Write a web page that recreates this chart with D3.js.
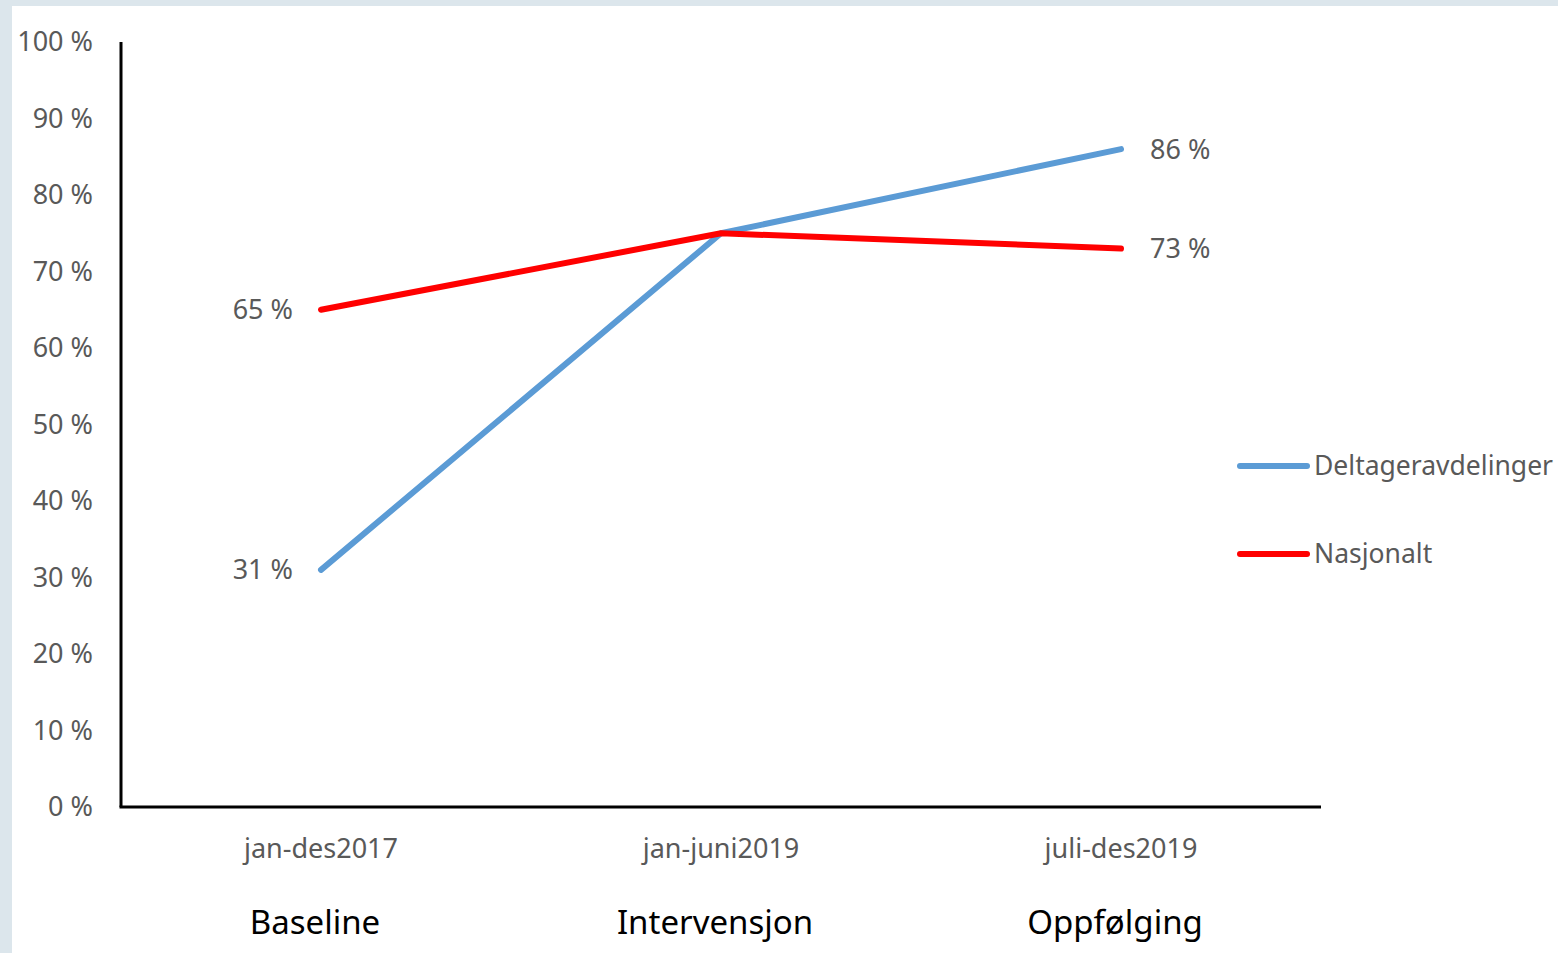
<!DOCTYPE html>
<html lang="no">
<head>
<meta charset="UTF-8">
<title>Deltageravdelinger vs Nasjonalt</title>
<script src="https://d3js.org/d3.v7.min.js"></script>
<style>
  body { margin: 0; background: #dce6ec; }
  svg { display: block; }
  .tick-label { font-family: "Noto Sans", sans-serif; fill: #595959; }
</style>
</head>
<body>
<script>
const categories = ["jan-des2017", "jan-juni2019", "juli-des2019"];
const phases = ["Baseline", "Intervensjon", "Oppfølging"];
const deltager = [31, 75, 86];
const nasjonalt = [65, 75, 73];
const yTicks = [0, 10, 20, 30, 40, 50, 60, 70, 80, 90, 100];

const series = [
  { name: "Deltageravdelinger", values: deltager, color: "#5b9bd5", labelIdx: [0, 2] },
  { name: "Nasjonalt", values: nasjonalt, color: "#ff0000", labelIdx: [0, 2] }
];

const W = 1558, H = 953;
const svg = d3.select("body").append("svg").attr("width", W).attr("height", H);

// white panel inside the light frame
svg.append("rect").attr("x", 12).attr("y", 6).attr("width", W - 12).attr("height", H - 6).attr("fill", "#fff");

const x = d3.scaleBand().domain(categories).range([121, 1321]);
const y = d3.scaleLinear().domain([0, 100]).range([807, 42]);
const cx = c => x(c) + x.bandwidth() / 2;

// y tick labels
svg.append("g").selectAll("text")
  .data(yTicks).enter().append("text")
  .attr("class", "tick-label")
  .attr("x", 93).attr("y", d => y(d)).attr("dy", "0.35em")
  .attr("text-anchor", "end").style("font-size", "27px")
  .text(d => d + "\u00a0%");

// axes
svg.append("line").attr("x1", 121).attr("x2", 121).attr("y1", y(100)).attr("y2", y(0))
  .attr("stroke", "#000").attr("stroke-width", 3);
svg.append("line").attr("x1", 119.5).attr("x2", 1321).attr("y1", y(0)).attr("y2", y(0))
  .attr("stroke", "#000").attr("stroke-width", 3);

// category labels
svg.append("g").selectAll("text")
  .data(categories).enter().append("text")
  .attr("class", "tick-label")
  .attr("x", d => cx(d)).attr("y", 849).attr("dy", "0.35em")
  .attr("text-anchor", "middle").style("font-size", "27px")
  .text(d => d);

// phase labels
svg.append("g").selectAll("text")
  .data(phases).enter().append("text")
  .attr("x", (d, i) => cx(categories[i]) - 6).attr("y", 922).attr("dy", "0.35em")
  .attr("text-anchor", "middle")
  .style("font-family", "'Noto Sans', sans-serif").style("font-size", "33px").style("fill", "#000")
  .text(d => d);

const line = d3.line().x((d, i) => cx(categories[i])).y(d => y(d));

// draw blue first, red on top
series.forEach(s => {
  svg.append("path").datum(s.values)
    .attr("d", line).attr("fill", "none")
    .attr("stroke", s.color).attr("stroke-width", 6)
    .attr("stroke-linecap", "round").attr("stroke-linejoin", "round");
});

// data labels
series.forEach(s => {
  s.labelIdx.forEach(i => {
    const left = i === 0;
    svg.append("text").attr("class", "tick-label")
      .attr("x", left ? cx(categories[i]) - 28 : cx(categories[i]) + 29)
      .attr("y", y(s.values[i])).attr("dy", "0.35em")
      .attr("text-anchor", left ? "end" : "start")
      .style("font-size", "27px")
      .text(s.values[i] + "\u00a0%");
  });
});

// legend
const legend = svg.append("g");
series.forEach((s, i) => {
  const ly = 466 + i * 88;
  legend.append("line").attr("x1", 1240).attr("x2", 1307).attr("y1", ly).attr("y2", ly)
    .attr("stroke", s.color).attr("stroke-width", 6).attr("stroke-linecap", "round");
  legend.append("text").attr("class", "tick-label")
    .attr("x", 1314).attr("y", ly).attr("dy", "0.35em")
    .style("font-size", "26.5px")
    .text(s.name);
});
</script>
</body>
</html>
